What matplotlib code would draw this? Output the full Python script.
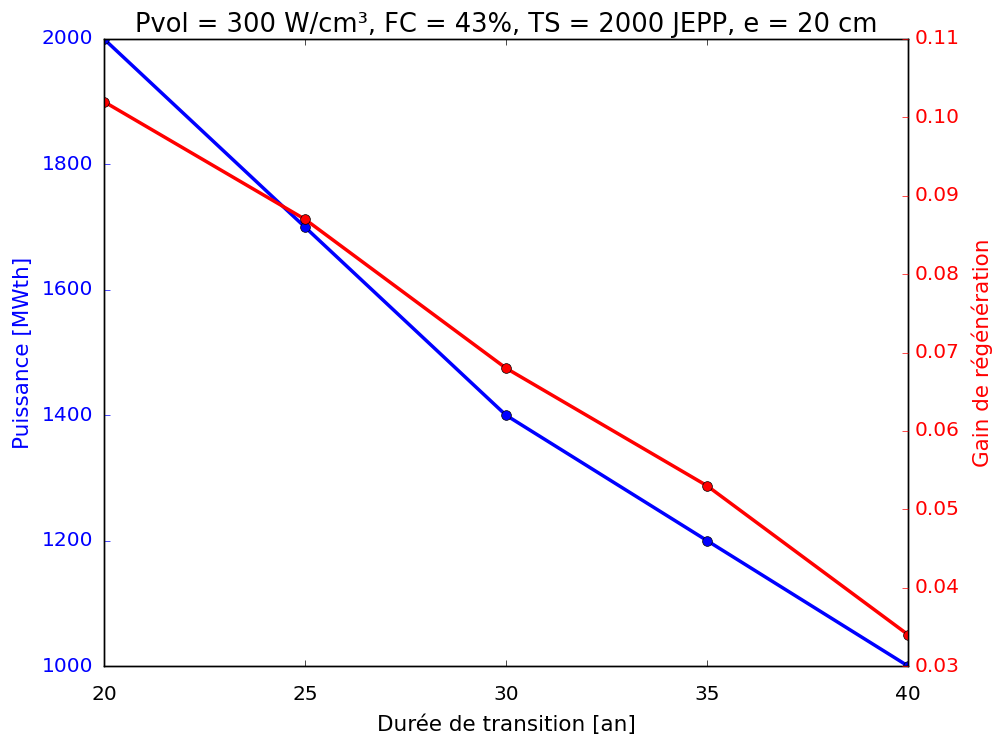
import matplotlib
matplotlib.use("Agg")
import matplotlib.pyplot as plt

plt.style.use("classic")
plt.rcParams['font.family'] = ['DejaVu Sans']

duree = [20, 25, 30, 35, 40]
puissance = [2000, 1700, 1400, 1200, 1000]
gain = [0.102, 0.087, 0.068, 0.053, 0.034]

fig = plt.figure(figsize=(9.95, 7.4), dpi=100)
fig.patch.set_facecolor('white')
ax = fig.add_axes([104/995, 1-666/740, (908-104)/995, (666-39)/740])
ax.plot(duree, puissance, 'b-o', lw=2.5, markersize=7)
ax.set_xlim(20, 40)
ax.set_ylim(1000, 2000)
ax.set_xticks([20, 25, 30, 35, 40])
ax.set_yticks([1000, 1200, 1400, 1600, 1800, 2000])
ax.set_xlabel('Durée de transition [an]', fontsize=15.5)
ax.set_ylabel('Puissance [MWth]', color='b', fontsize=15.5)
ax.tick_params(axis='y', colors='b', labelsize=14.5, pad=8)
ax.tick_params(axis='x', labelsize=14.5, pad=14)
for lbl in ax.get_yticklabels():
    lbl.set_color('b')
ax.xaxis.set_label_coords(0.5, -48/627)
ax.yaxis.set_label_coords(-71/804, 0.5)

ax2 = ax.twinx()
ax2.plot(duree, gain, 'r-o', lw=2.5, markersize=7)
ax2.set_ylim(0.03, 0.11)
ax2.set_yticks([0.03, 0.04, 0.05, 0.06, 0.07, 0.08, 0.09, 0.10, 0.11])
ax2.set_yticklabels(['0.03', '0.04', '0.05', '0.06', '0.07', '0.08', '0.09', '0.10', '0.11'])
ax2.set_ylabel('Gain de régénération', color='r', fontsize=15.5)
ax2.tick_params(axis='y', colors='r', labelsize=14.5, pad=5)
ax2.yaxis.set_label_coords(1 + 64/804, 0.5)
ax2.set_xlim(20, 40)
ax.set_title('Pvol = 300 W/cm³, FC = 43%, TS = 2000 JEPP, e = 20 cm', fontsize=18.5)

fig.savefig('out.png', dpi=100, facecolor='white')
